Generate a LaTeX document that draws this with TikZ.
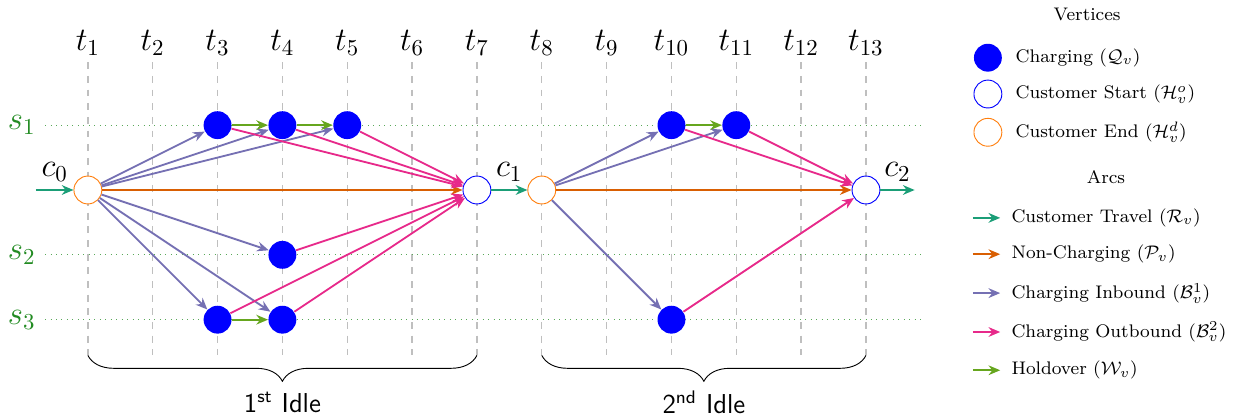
\documentclass[tikz,border=0pt]{standalone}
\usepackage{amsmath}
\usepackage{amssymb}
\usepackage{xcolor}
\usetikzlibrary{arrows.meta,positioning,decorations.pathreplacing}

\definecolor{travel}{HTML}{1B9E77}
\definecolor{nonchg}{HTML}{D95F02}
\definecolor{inbound}{HTML}{7570B3}
\definecolor{outbound}{HTML}{E7298A}
\definecolor{holdover}{HTML}{66A61E}
\definecolor{endorange}{HTML}{FF7F0E}
\definecolor{stationgreen}{HTML}{228B22}

\begin{document}
\begin{tikzpicture}[
    chg/.style={circle, fill=blue, minimum size=0.43cm, inner sep=0pt},
    hstart/.style={circle, draw=blue, fill=white, minimum size=0.43cm, inner sep=0pt},
    hend/.style={circle, draw=endorange, fill=white, minimum size=0.43cm, inner sep=0pt},
    arc/.style={-{Stealth[length=1.8mm, width=1.5mm]}, thick},
    trav/.style={arc, travel},
    nch/.style={arc, nonchg},
    inb/.style={arc, inbound},
    outb/.style={arc, outbound},
    hold/.style={arc, holdover},
    cust/.style={above, text=black, font=\Large},
    timeline/.style={dashed, gray!50, semithick},
    station/.style={dotted, stationgreen!75, thin},
    slabel/.style={text=stationgreen, font=\Large},
    legtext/.style={font=\footnotesize, anchor=west}
  ]
    \useasboundingbox (-0.355,-3.47) rectangle (18.66,2.93);

    % time grid
    \foreach \i in {1,...,13} {
      \node[font=\Large] (t\i) at (\i,2.27) {$t_{\i}$};
      \draw[timeline] (\i,1.97) -- (\i,-2.55);
    }

    % stations
    \foreach \s/\y in {1/1, 2/-1, 3/-2} {
      \node[slabel] (s\s) at (-0.02,\y) {$s_{\s}$};
      \draw[station] (0.34,\y) -- (13.9,\y);
    }

    % customer vertices
    \coordinate (in0) at (0.2,0);
    \node[hend] (e0) at (1,0) {};
    \node[hstart] (o1) at (7,0) {};
    \node[hend] (e1) at (8,0) {};
    \node[hstart] (o2) at (13,0) {};
    \coordinate (out2) at (13.75,0);

    % charging vertices
    \node[chg] (q1t3) at (3,1) {};
    \node[chg] (q1t4) at (4,1) {};
    \node[chg] (q1t5) at (5,1) {};
    \node[chg] (q2t4) at (4,-1) {};
    \node[chg] (q3t3) at (3,-2) {};
    \node[chg] (q3t4) at (4,-2) {};
    \node[chg] (q1t10) at (10,1) {};
    \node[chg] (q1t11) at (11,1) {};
    \node[chg] (q3t10) at (10,-2) {};

    % customer travel
    \draw[trav] (in0) -- node[cust] {$c_0$} (e0);
    \draw[trav] (o1) -- node[cust] {$c_1$} (e1);
    \draw[trav] (o2) -- node[cust] {$c_2$} (out2);

    % non-charging
    \draw[nch] (e0) -- (o1);
    \draw[nch] (e1) -- (o2);

    % charging inbound
    \draw[inb] (e0) -- (q1t3);
    \draw[inb] (e0) -- (q1t4);
    \draw[inb] (e0) -- (q1t5);
    \draw[inb] (e0) -- (q2t4);
    \draw[inb] (e0) -- (q3t3);
    \draw[inb] (e0) -- (q3t4);
    \draw[inb] (e1) -- (q1t10);
    \draw[inb] (e1) -- (q1t11);
    \draw[inb] (e1) -- (q3t10);

    % charging outbound
    \draw[outb] (q1t3) -- (o1);
    \draw[outb] (q1t4) -- (o1);
    \draw[outb] (q1t5) -- (o1);
    \draw[outb] (q2t4) -- (o1);
    \draw[outb] (q3t3) -- (o1);
    \draw[outb] (q3t4) -- (o1);
    \draw[outb] (q1t10) -- (o2);
    \draw[outb] (q1t11) -- (o2);
    \draw[outb] (q3t10) -- (o2);

    % holdover
    \draw[hold] (q1t3) -- (q1t4);
    \draw[hold] (q1t4) -- (q1t5);
    \draw[hold] (q3t3) -- (q3t4);
    \draw[hold] (q1t10) -- (q1t11);

    % idle periods
    \coordinate (b1l) at (1,-2.55);
    \coordinate (b1r) at (7,-2.55);
    \coordinate (b2l) at (8,-2.55);
    \coordinate (b2r) at (13,-2.55);
    \draw[decorate, decoration={brace, mirror, amplitude=0.4cm}] (b1l) -- (b1r);
    \draw[decorate, decoration={brace, mirror, amplitude=0.4cm}] (b2l) -- (b2r);
    \node[font=\large\sffamily] (idle1) at (4,-3.27) {1\textsuperscript{st} Idle};
    \node[font=\large\sffamily] (idle2) at (10.5,-3.27) {2\textsuperscript{nd} Idle};

    % legend
    \node[font=\footnotesize] (vert) at (16.41,2.70) {Vertices};
    \node[chg] (lq) at (14.88,2.04) {};
    \node[legtext, right=0.08cm of lq] {Charging ($\mathcal{Q}_v$)};
    \node[hstart] (lo) at (14.88,1.48) {};
    \node[legtext, right=0.08cm of lo] {Customer Start ($\mathcal{H}_v^o$)};
    \node[hend] (le) at (14.88,0.89) {};
    \node[legtext, right=0.08cm of le] {Customer End ($\mathcal{H}_v^d$)};

    \node[font=\footnotesize] (arcs) at (16.70,0.20) {Arcs};
    \coordinate (la1) at (14.65,-0.43);
    \coordinate[right=0.42cm of la1] (lb1);
    \draw[trav] (la1) -- (lb1);
    \node[legtext, right=0.05cm of lb1] {Customer Travel ($\mathcal{R}_v$)};
    \coordinate (la2) at (14.65,-0.99);
    \coordinate[right=0.42cm of la2] (lb2);
    \draw[nch] (la2) -- (lb2);
    \node[legtext, right=0.05cm of lb2] {Non-Charging ($\mathcal{P}_v$)};
    \coordinate (la3) at (14.65,-1.59);
    \coordinate[right=0.42cm of la3] (lb3);
    \draw[inb] (la3) -- (lb3);
    \node[legtext, right=0.05cm of lb3] {Charging Inbound ($\mathcal{B}_v^1$)};
    \coordinate (la4) at (14.65,-2.19);
    \coordinate[right=0.42cm of la4] (lb4);
    \draw[outb] (la4) -- (lb4);
    \node[legtext, right=0.05cm of lb4] {Charging Outbound ($\mathcal{B}_v^2$)};
    \coordinate (la5) at (14.65,-2.78);
    \coordinate[right=0.42cm of la5] (lb5);
    \draw[hold] (la5) -- (lb5);
    \node[legtext, right=0.05cm of lb5] {Holdover ($\mathcal{W}_v$)};
  \end{tikzpicture}
\end{document}
